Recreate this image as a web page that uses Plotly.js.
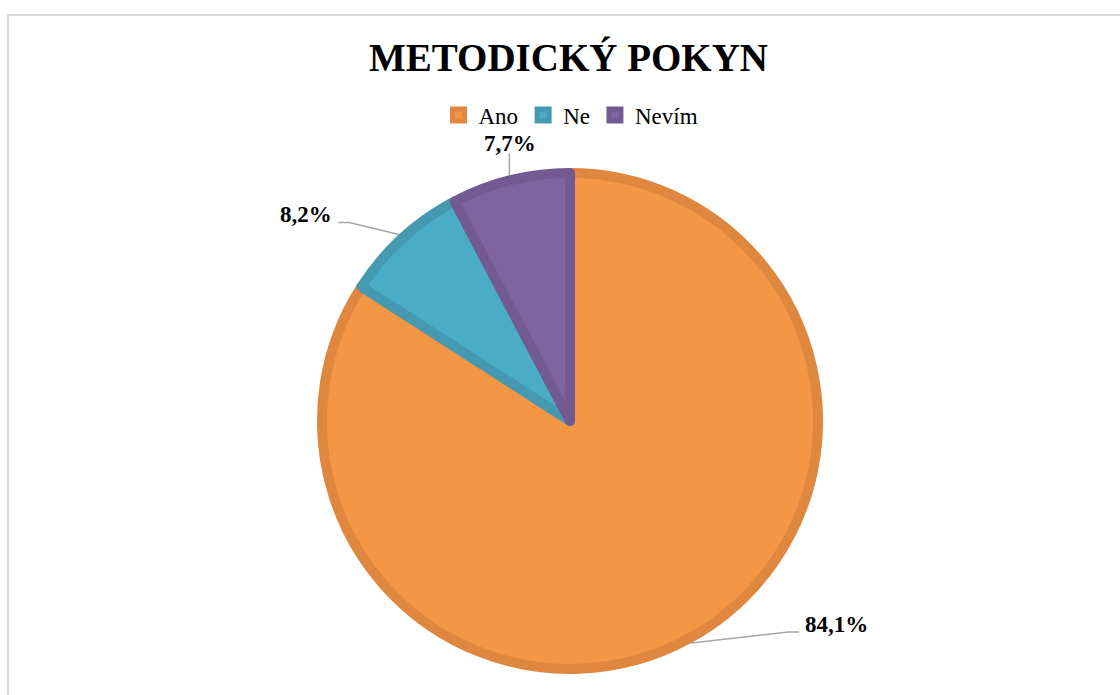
<!DOCTYPE html>
<html>
<head>
<meta charset="utf-8">
<script src="https://cdn.plot.ly/plotly-3.0.1.min.js"></script>
<style>
  html, body { margin: 0; padding: 0; background: #ffffff; overflow: hidden; }
  #chart { position: absolute; left: 0; top: 0; width: 1120px; height: 695px; }
  #frame { position: absolute; left: 7px; top: 14px; width: 2000px; height: 2000px;
           border-left: 2px solid #d9d9d9; border-top: 2px solid #d9d9d9; pointer-events: none; }
</style>
</head>
<body>
<div id="chart"></div>
<div id="frame"></div>
<script>
// ---- data ----
const categories = ['Ano', 'Ne', 'Nevím'];
const values = [84.1, 8.2, 7.7];
const valueLabels = ['84,1%', '8,2%', '7,7%'];
const titleText = 'METODICKÝ POKYN';

// ---- style ----
const fillColors = ['#F39646', '#4BACC6', '#8064A2'];
const lineColors = ['#E0873F', '#4599B1', '#735A92'];
const W = 1120, H = 695;
const cx = 570, cy = 421, rOuter = 253, lineW = 10;
const r = rOuter - lineW / 2;
const serif = '"Liberation Serif", "Times New Roman", serif';

// leader-line layout per label (offsets in px from slice edge point)
const leaderStyle = [
  { ex: 97, ey: -11, tail: 11, xanchor: 'left', tx: 4, ty: -8 },
  { ex: -50, ey: -12, tail: -11, xanchor: 'right', tx: -4, ty: -8 },
  { ex: 0, ey: -22, tail: 0, xanchor: 'center', tx: 1, ty: -10 }
];

const px = x => x / W;
const py = y => 1 - y / H;

const total = values.reduce((a, b) => a + b, 0);
const shapes = [];
const annotations = [];
let acc = 0;
values.forEach((v, i) => {
  const mid = (acc + v / 2) / total * 2 * Math.PI; // clockwise from 12 o'clock
  acc += v;
  const x0 = cx + rOuter * Math.sin(mid);
  const y0 = cy - rOuter * Math.cos(mid);
  const s = leaderStyle[i];
  const x1 = x0 + s.ex, y1 = y0 + s.ey;
  const x2 = x1 + s.tail, y2 = y1;
  shapes.push({
    type: 'path', xref: 'paper', yref: 'paper',
    path: `M ${px(x0)},${py(y0)} L ${px(x1)},${py(y1)} L ${px(x2)},${py(y2)}`,
    line: { color: '#a6a6a6', width: 1.5 }
  });
  annotations.push({
    xref: 'paper', yref: 'paper',
    x: px(x2 + s.tx), y: py(y2 + s.ty),
    xanchor: s.xanchor, yanchor: 'middle',
    text: '<b>' + valueLabels[i] + '</b>',
    showarrow: false,
    font: { family: serif, size: 23, color: '#000000' }
  });
});

const trace = {
  type: 'pie',
  labels: categories,
  values: values,
  sort: false,
  direction: 'clockwise',
  rotation: 0,
  textinfo: 'none',
  hoverinfo: 'label+percent',
  marker: { colors: fillColors, line: { color: lineColors, width: lineW } },
  domain: { x: [px(cx - r), px(cx + r)], y: [py(cy + r), py(cy - r)] }
};

const layout = {
  width: W, height: H,
  margin: { l: 0, r: 0, t: 0, b: 0 },
  paper_bgcolor: '#ffffff',
  title: {
    text: '<b>' + titleText + '</b>',
    font: { family: serif, size: 39, color: '#000000' },
    x: 568.5 / W, xanchor: 'center', xref: 'paper',
    y: py(57), yanchor: 'middle', yref: 'paper'
  },
  showlegend: true,
  legend: {
    orientation: 'h', x: px(571), xanchor: 'center', y: py(115), yanchor: 'middle',
    font: { family: serif, size: 23, color: '#000000' },
    itemwidth: 30, bgcolor: 'rgba(0,0,0,0)'
  },
  shapes: shapes,
  annotations: annotations
};

Plotly.newPlot('chart', [trace], layout, { displayModeBar: false, staticPlot: true });
</script>
</body>
</html>
